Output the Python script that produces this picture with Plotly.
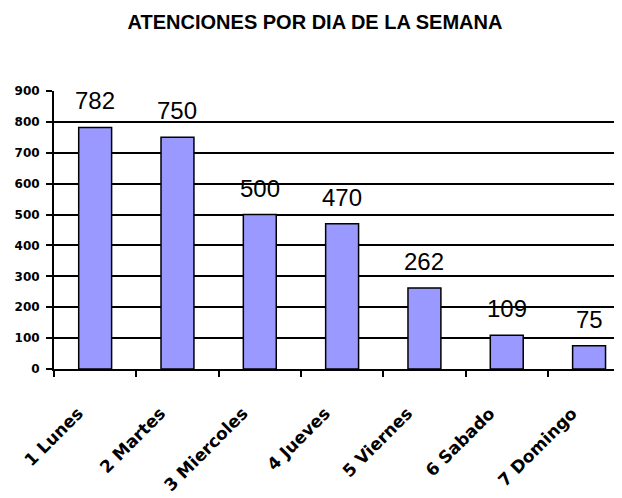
import plotly.graph_objects as go

categories = ["1 Lunes", "2 Martes", "3 Miercoles", "4 Jueves", "5 Viernes", "6 Sabado", "7 Domingo"]
values = [782, 750, 500, 470, 262, 109, 75]
y_ticks = [0, 100, 200, 300, 400, 500, 600, 700, 800, 900]
title = "ATENCIONES POR DIA DE LA SEMANA"

fig = go.Figure()
fig.add_trace(go.Bar(
    x=categories, y=values,
    marker=dict(color="#9999FF", line=dict(color="#000000", width=1.5)),
    width=0.4,
))
for c, v in zip(categories, values):
    fig.add_annotation(x=c, y=v, text=str(v), showarrow=False, yanchor="bottom", yshift=11,
                       font=dict(family="Liberation Sans Narrow, Arial Narrow, Liberation Sans", size=24, color="#000000"))

fig.update_layout(
    width=614, height=490,
    margin=dict(l=46, r=0, t=83, b=129),
    paper_bgcolor="white", plot_bgcolor="white",
    showlegend=False,
    title=dict(text="<b>" + title + "</b>", x=0.5, xanchor="center", y=0.971, yanchor="middle",
               font=dict(family="Liberation Sans, Arial", size=20, color="#000000")),
    bargap=0.6,
)
fig.update_xaxes(
    range=[-0.5, 6.4], tickangle=-45, ticks="outside", tickson="boundaries", ticklen=6,
    tickcolor="black", tickwidth=1.5, showline=True, linecolor="black", linewidth=1.5,
    showgrid=False, ticklabelstandoff=26, ticklabelshift=-17,
    tickfont=dict(family="DejaVu Sans", size=17, color="#000000", weight="bold"),
)
fig.update_yaxes(
    range=[0, 900], tickvals=y_ticks, ticks="outside", ticklen=6, tickcolor="black", tickwidth=1.5,
    showline=True, linecolor="black", linewidth=2, showgrid=True, gridcolor="black", gridwidth=1.5,
    zeroline=False, ticklabelstandoff=4,
    tickfont=dict(family="DejaVu Sans", size=12, color="#000000", weight="bold"),
)
fig.write_html("out.html")
